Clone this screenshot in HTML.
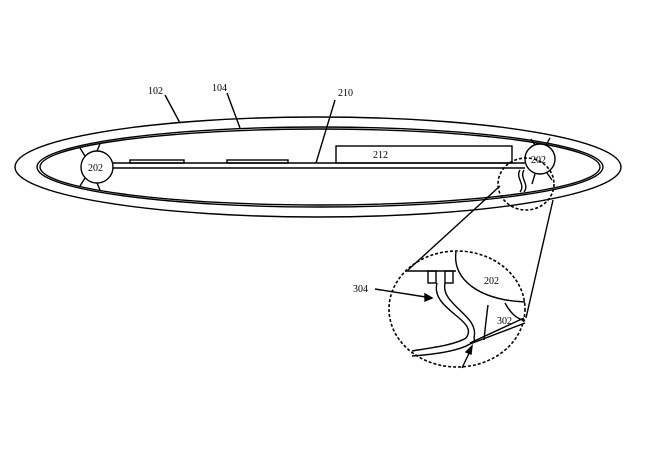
<!DOCTYPE html>
<html><head><style>body{margin:0;background:#fff}svg{display:block}text{font-family:"Liberation Serif",serif;font-size:10px;fill:#000}</style></head><body>
<svg width="660" height="450" viewBox="0 0 660 450" xmlns="http://www.w3.org/2000/svg" fill="none" stroke="#000" stroke-width="1.4">
<ellipse cx="318" cy="167" rx="303" ry="50"/>
<ellipse cx="320" cy="167" rx="283" ry="40"/>
<ellipse cx="320" cy="167" rx="280" ry="38"/>
<line x1="113" y1="163" x2="525" y2="163"/>
<line x1="113" y1="168" x2="525" y2="168"/>
<circle cx="97" cy="167" r="16" fill="#fff"/>
<line x1="85" y1="156" x2="80" y2="148"/><line x1="97" y1="151" x2="100" y2="144"/>
<line x1="85" y1="178" x2="80" y2="186"/><line x1="97" y1="183" x2="100" y2="190"/>
<rect x="130" y="160" width="54" height="3"/>
<rect x="227" y="160" width="61" height="3"/>
<rect x="336" y="146" width="176" height="17"/>
<circle cx="540" cy="159" r="15" fill="#fff"/>
<line x1="535" y1="145" x2="531" y2="139"/><line x1="546" y1="145" x2="550" y2="138"/>
<line x1="535" y1="174" x2="532" y2="184"/><line x1="547" y1="173" x2="552" y2="180"/>
<path d="M520 170 C515 178 526 184 520 192 M524 170 C519 178 530 184 524 192"/>
<ellipse cx="526" cy="184" rx="28" ry="26" stroke-dasharray="3,2" stroke-width="1.6"/>
<line x1="500" y1="186" x2="408" y2="270"/>
<line x1="553" y1="200" x2="526" y2="318"/>
<ellipse cx="457" cy="309" rx="68" ry="58" stroke-dasharray="3,2" stroke-width="1.6"/>
<line x1="405" y1="271" x2="456" y2="271"/>
<rect x="428" y="271" width="8" height="12"/><rect x="445" y="271" width="8" height="12"/>
<path d="M456 252 C452 280 480 300 525 302"/>
<path d="M488 305 C486 320 485 330 484 340"/>
<path d="M505 303 C510 312 515 318 525 321"/>
<path d="M437 283 C430 310 480 320 466 338 C455 345 430 348 412 351"/>
<path d="M445 283 C440 305 480 315 474 338 C476 342 470 343 470 343"/>
<path d="M412 356 C440 354 460 350 470 344 L525 323"/>
<path d="M470 343 L524 318"/>
<line x1="375" y1="289" x2="432" y2="298"/><path d="M432 298 l-7 -4 l0 7z" fill="#000"/>
<line x1="462" y1="368" x2="472" y2="347"/><path d="M472 346 l-6 6 l5 2z" fill="#000"/>
<line x1="165" y1="95" x2="180" y2="123"/>
<line x1="227" y1="93" x2="240" y2="128"/>
<line x1="335" y1="100" x2="316" y2="163"/>
<g stroke="none">
<text x="148" y="94">102</text>
<text x="212" y="91">104</text>
<text x="338" y="96">210</text>
<text x="373" y="158">212</text>
<text x="88" y="171">202</text>
<text x="531" y="163">202</text>
<text x="353" y="292">304</text>
<text x="484" y="284">202</text>
<text x="497" y="324">302</text>
</g>
</svg>
</body></html>
